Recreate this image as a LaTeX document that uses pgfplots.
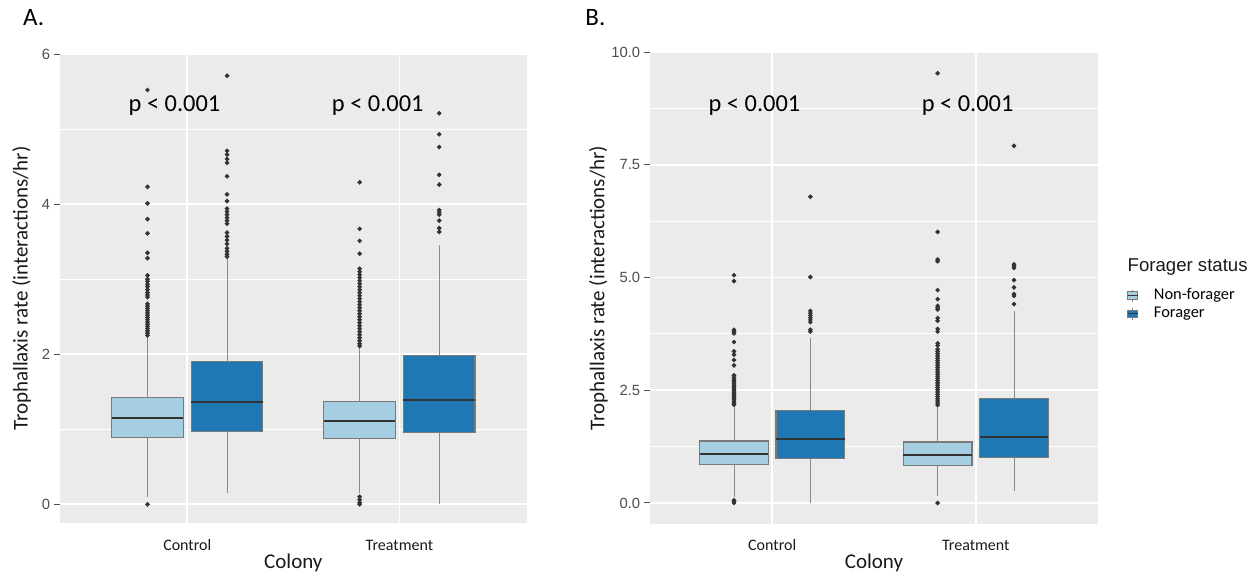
\documentclass[border=0pt]{standalone}
\usepackage{fontspec}
\setmainfont{Carlito}
\newfontfamily\arialfont{Liberation Sans}
\usepackage{pgfplots}
\usepgfplotslibrary{statistics}
\pgfplotsset{compat=1.18}

\definecolor{panelbg}{HTML}{EBEBEB}
\definecolor{nfcol}{HTML}{A6CEE3}
\definecolor{fcol}{HTML}{1F78B4}
\definecolor{boxline}{HTML}{7A7A7A}
\definecolor{medline}{HTML}{333333}
\definecolor{whisk}{HTML}{8A8A8A}
\definecolor{dotcol}{HTML}{333333}
\definecolor{ticklab}{HTML}{4D4D4D}
\definecolor{labcol}{HTML}{1A1A1A}

\tikzset{
  pnote/.style={anchor=base, font=\fontsize{12.2}{14}\selectfont, text=black, inner sep=0pt},
}

\pgfplotsset{
  ggpanel/.style={
    scale only axis,
    xmin=0.4, xmax=2.6,
    axis background/.style={fill=panelbg},
    axis line style={draw=none},
    grid=both,
    major grid style={white, line width=0.9pt},
    minor grid style={white, line width=0.45pt},
    xtick={1,2},
    xticklabels={Control,Treatment},
    minor x tick num=0,
    minor y tick num=1,
    tick align=outside,
    ytick pos=left,
    xtick pos=bottom,
    major tick length=2.8pt,
    minor tick length=0pt,
    xtick style={draw=none},
    ytick style={draw=ticklab, line width=0.5pt},
    yticklabel style={font=\arialfont\fontsize{7.4}{8}\selectfont, text=ticklab, inner sep=0pt, xshift=-1.9pt},
    xticklabel style={font=\fontsize{8}{9}\selectfont, text=labcol, inner sep=0pt, anchor=base},
    xlabel={Colony},
    ylabel={Trophallaxis rate (interactions/hr)},
    label style={font=\fontsize{10.5}{12}\selectfont, text=labcol},
    boxplot/draw direction=y,
    boxplot/box extend=0.3375,
    boxplot/whisker extend=0,
    boxplot/every median/.style={draw=medline, line width=1pt},
    boxplot/every whisker/.style={draw=whisk, line width=0.5pt},
    clip=false,
  },
  nfbox/.style={forget plot, mark=*, mark size=0.95pt,
    mark options={draw=dotcol, fill=dotcol},
    boxplot/every box/.style={draw=boxline, fill=nfcol, line width=0.6pt}},
  fbox/.style={forget plot, mark=*, mark size=0.95pt,
    mark options={draw=dotcol, fill=dotcol},
    boxplot/every box/.style={draw=boxline, fill=fcol, line width=0.6pt}},
  keyimg/.style={legend image code/.code={
    \path[draw=none, fill=none] (0pt,0pt) -- (12pt,0pt);
    \draw[whisk, line width=0.5pt] (2.5pt,-3pt) -- (2.5pt,3pt);
    \draw[draw=boxline, fill=#1, line width=0.5pt] (0pt,-1.8pt) rectangle (5pt,1.8pt);
    \draw[medline, line width=0.6pt] (0pt,0pt) -- (5pt,0pt);}},
}

\begin{document}
\begin{tikzpicture}
\useasboundingbox (0,0) rectangle (629pt,287.5pt);

\node[anchor=base west, inner sep=0pt, font=\fontsize{12.5}{14}\selectfont] at (11.4pt,275pt) {A.};
\node[anchor=base west, inner sep=0pt, font=\fontsize{12.5}{14}\selectfont] at (292.5pt,275pt) {B.};

% Panel A
\begin{axis}[ggpanel,
  at={(30pt,25.85pt)}, anchor=south west,
  width=233.35pt, height=234.65pt,
  ymin=-0.253, ymax=6.0,
  ytick={0,2,4,6}, yticklabels={0,2,4,6},
  xticklabel style={yshift=-10.85pt},
  xlabel style={at={(axis description cs:0.5,-0.0967)}, anchor=base},
  ylabel style={at={(axis description cs:-0.0696,0.5)}, anchor=base},
]
\addplot[nfbox, boxplot prepared={draw position=0.8125,
  lower whisker=0.10, lower quartile=0.887, median=1.144,
  upper quartile=1.424, upper whisker=2.22}]
  table[row sep=\\, y index=0] {v\\ 5.52\\ 4.23\\ 4.01\\ 3.80\\ 3.61\\ 3.35\\ 3.28\\ 3.05\\ 3.00\\ 2.97\\ 2.93\\ 2.90\\ 2.86\\ 2.82\\ 2.79\\ 2.76\\ 2.67\\ 2.64\\ 2.61\\ 2.58\\ 2.55\\ 2.52\\ 2.49\\ 2.46\\ 2.43\\ 2.40\\ 2.37\\ 2.34\\ 2.31\\ 2.28\\ 2.25\\ 0.00\\};
\addplot[fbox, boxplot prepared={draw position=1.1875,
  lower whisker=0.155, lower quartile=0.967, median=1.357,
  upper quartile=1.90, upper whisker=3.28}]
  table[row sep=\\, y index=0] {v\\ 5.71\\ 4.71\\ 4.66\\ 4.60\\ 4.55\\ 4.37\\ 4.13\\ 4.04\\ 3.94\\ 3.90\\ 3.86\\ 3.82\\ 3.78\\ 3.74\\ 3.62\\ 3.57\\ 3.52\\ 3.47\\ 3.41\\ 3.37\\ 3.33\\ 3.30\\};
\addplot[nfbox, boxplot prepared={draw position=1.8125,
  lower whisker=0.146, lower quartile=0.878, median=1.109,
  upper quartile=1.375, upper whisker=2.09}]
  table[row sep=\\, y index=0] {v\\ 4.29\\ 3.67\\ 3.51\\ 3.34\\ 3.14\\ 3.10\\ 3.06\\ 3.02\\ 2.98\\ 2.94\\ 2.90\\ 2.86\\ 2.82\\ 2.78\\ 2.74\\ 2.70\\ 2.66\\ 2.62\\ 2.58\\ 2.54\\ 2.50\\ 2.46\\ 2.42\\ 2.38\\ 2.34\\ 2.30\\ 2.26\\ 2.22\\ 2.18\\ 2.14\\ 2.11\\ 0.10\\ 0.06\\ 0.02\\ 0.00\\};
\addplot[fbox, boxplot prepared={draw position=2.1875,
  lower whisker=0.0, lower quartile=0.954, median=1.384,
  upper quartile=1.987, upper whisker=3.45}]
  table[row sep=\\, y index=0] {v\\ 5.21\\ 4.93\\ 4.76\\ 4.39\\ 4.26\\ 3.92\\ 3.89\\ 3.86\\ 3.78\\ 3.68\\ 3.63\\};
\node[pnote] at (axis cs:0.94,5.24) {p < 0.001};
\node[pnote] at (axis cs:1.898,5.24) {p < 0.001};
\end{axis}

% Panel B
\begin{axis}[ggpanel,
  at={(325pt,25.3pt)}, anchor=south west,
  width=224pt, height=236.2pt,
  ymin=-0.475, ymax=10.0,
  ytick={0,2.5,5,7.5,10}, yticklabels={0.0,2.5,5.0,7.5,10.0},
  xticklabel style={yshift=-10.3pt},
  xlabel style={at={(axis description cs:0.5,-0.0929)}, anchor=base},
  ylabel style={at={(axis description cs:-0.1016,0.5)}, anchor=base},
  legend style={draw=none, fill=none, at={(axis description cs:1.0647,0.5047)}, anchor=north west,
    font=\fontsize{8.2}{9}\selectfont, inner sep=0pt, row sep=0.2pt, nodes={inner sep=1pt}},
  legend cell align=left,
]
\addplot[nfbox, boxplot prepared={draw position=0.8125,
  lower whisker=0.14, lower quartile=0.861, median=1.097,
  upper quartile=1.376, upper whisker=2.16}]
  table[row sep=\\, y index=0] {v\\ 5.05\\ 4.92\\ 3.84\\ 3.80\\ 3.76\\ 3.57\\ 3.36\\ 3.29\\ 3.17\\ 3.05\\ 2.83\\ 2.78\\ 2.73\\ 2.69\\ 2.65\\ 2.61\\ 2.57\\ 2.53\\ 2.49\\ 2.45\\ 2.41\\ 2.37\\ 2.33\\ 2.29\\ 2.25\\ 2.21\\ 2.18\\ 0.06\\ 0.03\\ 0.00\\};
\addplot[fbox, boxplot prepared={draw position=1.1875,
  lower whisker=0.0, lower quartile=0.994, median=1.428,
  upper quartile=2.054, upper whisker=3.65}]
  table[row sep=\\, y index=0] {v\\ 6.79\\ 5.01\\ 4.26\\ 4.21\\ 4.16\\ 4.11\\ 4.06\\ 4.01\\ 3.84\\ 3.80\\};
\addplot[nfbox, boxplot prepared={draw position=1.8125,
  lower whisker=0.155, lower quartile=0.824, median=1.06,
  upper quartile=1.354, upper whisker=2.14}]
  table[row sep=\\, y index=0] {v\\ 9.53\\ 6.01\\ 5.40\\ 5.36\\ 4.72\\ 4.52\\ 4.37\\ 4.33\\ 4.29\\ 4.10\\ 4.04\\ 3.86\\ 3.80\\ 3.54\\ 3.49\\ 3.41\\ 3.36\\ 3.31\\ 3.26\\ 3.21\\ 3.16\\ 3.11\\ 3.06\\ 3.01\\ 2.96\\ 2.91\\ 2.86\\ 2.81\\ 2.76\\ 2.71\\ 2.66\\ 2.61\\ 2.56\\ 2.51\\ 2.46\\ 2.41\\ 2.36\\ 2.31\\ 2.26\\ 2.21\\ 2.17\\ 0.00\\};
\addplot[fbox, boxplot prepared={draw position=2.1875,
  lower whisker=0.27, lower quartile=1.016, median=1.464,
  upper quartile=2.319, upper whisker=4.26}]
  table[row sep=\\, y index=0] {v\\ 7.92\\ 5.29\\ 5.25\\ 5.21\\ 4.94\\ 4.78\\ 4.63\\ 4.59\\ 4.41\\};
\node[pnote] at (axis cs:0.913,8.69) {p < 0.001};
\node[pnote] at (axis cs:1.96,8.69) {p < 0.001};

\addlegendimage{keyimg=nfcol}
\addlegendentry{Non-forager}
\addlegendimage{keyimg=fcol}
\addlegendentry{Forager}
\end{axis}

\node[anchor=base west, inner sep=0pt, font=\arialfont\fontsize{9.3}{11}\selectfont, text=labcol]
  at (563.65pt,151.65pt) {Forager status};
\end{tikzpicture}
\end{document}
